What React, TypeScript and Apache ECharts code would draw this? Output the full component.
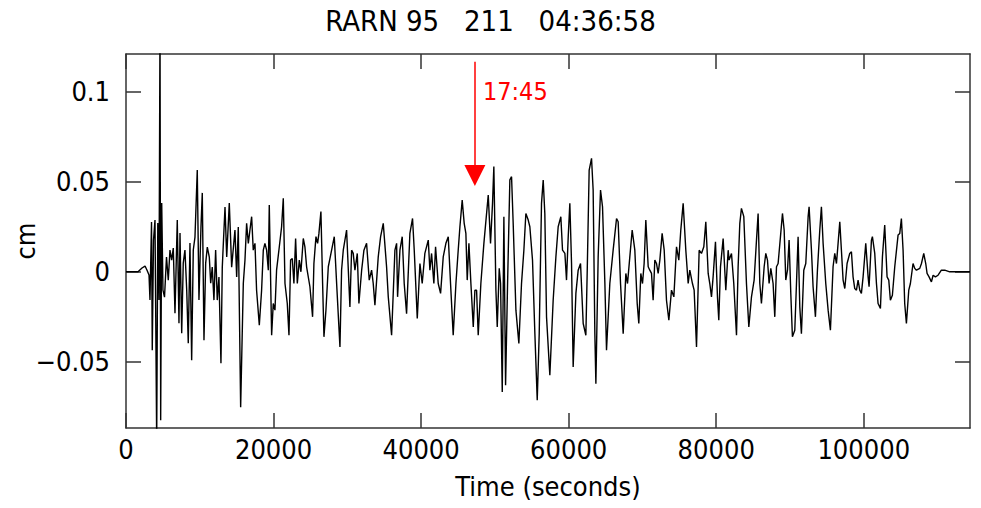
import React, { useEffect, useRef } from "react";
import * as echarts from "echarts";

// Trace: time (seconds) and ground displacement (cm)
const timeSec = [
  0, 1630, 2170, 2580, 2850, 3120, 3250, 3460, 3560, 3730, 3930, 4160, 4310, 4470, 4610, 4700, 4840, 5010, 5220, 5490,
  5730, 5960, 6190, 6410, 6640, 6950, 7180, 7320, 7550, 7760, 7990, 8230, 8440, 8670, 8900, 9120, 9350, 9660, 9890, 10160,
  10340, 10570, 10800, 11020, 11290, 11480, 11690, 11920, 12150, 12370, 12600, 12870, 13050, 13420, 13650, 14000, 14320, 14770, 15000, 15220,
  15540, 15900, 16125, 16350, 16580, 16800, 17030, 17250, 17480, 17700, 18070, 18380, 18610, 18830, 19060, 19290, 19420, 19740, 19960, 20190,
  20410, 20780, 21090, 21320, 21550, 21860, 22090, 22310, 22540, 22760, 22990, 23220, 23490, 23710, 24030, 24250, 24480, 24930, 25290, 25470,
  25750, 25970, 26150, 26420, 26650, 26830, 27100, 27420, 27870, 28230, 28550, 29000, 29220, 29450, 29900, 30350, 30580, 30800, 31030, 31350,
  31570, 31940, 32250, 32610, 32970, 33290, 33510, 33740, 34190, 34510, 34870, 35320, 35550, 36000, 36450, 36680, 36810, 37130, 37440, 37710,
  38030, 38480, 38840, 39070, 39480, 39840, 40150, 40510, 40970, 41190, 41420, 41730, 41960, 42320, 42640, 43000, 43360, 43680, 43990, 44350,
  44720, 45030, 45260, 45570, 45840, 46070, 46250, 46480, 46750, 47070, 47290, 47520, 47740, 48100, 48510, 49100, 49410, 49680, 49860, 50140,
  50320, 50590, 50770, 51000, 51220, 51450, 51720, 52030, 52260, 52480, 52850, 53250, 53610, 53930, 54200, 54520, 54740, 55100, 55420, 55740,
  56010, 56320, 56550, 56770, 57000, 57450, 57900, 58270, 58580, 58940, 59170, 59490, 59710, 59940, 60160, 60390, 60610, 60980, 61290, 61610,
  61970, 62330, 62510, 62780, 63100, 63320, 63550, 63690, 64000, 64320, 64590, 64910, 65130, 65580, 66030, 66490, 66710, 67030, 67390, 67750,
  67980, 68290, 68610, 68970, 69290, 69510, 69780, 70010, 70230, 70460, 70780, 71000, 71230, 71450, 71680, 71910, 72130, 72360, 72670, 72950,
  73260, 73580, 73940, 74260, 74620, 74930, 75200, 75520, 75880, 76200, 76420, 76780, 77010, 77330, 77690, 78000, 78320, 78590, 78910, 79130,
  79360, 79580, 79900, 80170, 80350, 80580, 80940, 81300, 81620, 81750, 82070, 82380, 82750, 82970, 83200, 83420, 83740, 84100, 84420, 84780,
  85140, 85460, 85680, 85910, 86130, 86500, 86720, 86950, 87170, 87400, 87710, 87940, 88170, 88390, 88710, 88980, 89210, 89430, 89660, 89880,
  90110, 90330, 90650, 90880, 91100, 91330, 91550, 91870, 92140, 92460, 92590, 92910, 93130, 93450, 93720, 94040, 94260, 94490, 94850, 95170,
  95480, 95840, 96070, 96300, 96520, 96750, 96970, 97200, 97430, 97740, 98100, 98330, 98550, 98780, 99010, 99230, 99460, 99680, 99910, 100270,
  100590, 100720, 101040, 101170, 101490, 101720, 101940, 102260, 102530, 102840, 103160, 103390, 103610, 103880, 104200, 104650, 104880, 105100, 105330, 105550,
  105780, 106100, 106320, 106680, 106910, 107140, 107590, 107820, 108130, 108400, 108580, 108850, 109170, 109400, 109710, 110070, 110520, 110980, 111650, 114400,
];
const displacementCm = [
  0, 0, 0.0021, 0.0032, 0.0009, -0.0018, -0.0157, 0.0276, -0.0435, 0.0176, 0.0287, -0.095, 0.0271, -0.0157, 0.14, -0.0824, 0.0382, -0.0102, -0.0141, 0.0082,
  -0.0046, 0.0121, 0.0065, 0.0132, -0.023, 0.0287, -0.0285, 0.0215, -0.0341, 0.0048, 0.0121, -0.0102, -0.0396, 0.016, -0.0491, 0.0121, 0.0193, 0.0565, -0.0157, 0.0249,
  0.0438, -0.038, 0.0048, 0.0137, 0.0082, -0.0063, 0.0026, -0.0157, 0.0121, -0.0157, -0.0029, -0.0507, 0.0026, 0.036, 0.0082, 0.0382, 0.0026, 0.0232, -0.0029, 0.0249,
  -0.0752, -0.0065, 0.0065, 0.0269, 0.0158, 0.0232, 0.0306, 0.012, 0.0158, -0.0102, -0.0296, -0.0102, 0.012, 0.0158, 0.012, 0.0009, 0.0371, -0.0352, -0.0176, -0.0213,
  0.0009, 0.0139, 0.025, 0.0408, -0.0065, -0.0176, -0.0352, 0.0065, 0.0074, -0.0065, 0.0185, -0.0065, 0.0065, 0, 0.0185, 0.0139, 0.0028, -0.0083, -0.025, 0.0046,
  0.0195, 0.0158, 0.0213, 0.0334, -0.0065, -0.0361, -0.0213, 0.0028, 0.012, 0.0195, -0.0065, -0.0417, 0.0009, 0.012, 0.0232, -0.0195, 0.012, 0.0102, 0.0009, 0.0102,
  -0.0176, 0.0009, 0.012, 0.0158, -0.0046, 0.0009, -0.0065, -0.0185, 0.0083, 0.0195, 0.0269, 0.0028, -0.0139, -0.0352, 0.012, 0.0158, -0.0139, 0.012, 0.0195, -0.0065,
  -0.0232, 0.0213, 0.0296, 0.012, -0.0259, 0.0046, -0.0065, 0.0102, 0.0176, 0.0009, 0.0102, -0.0065, 0.0139, -0.0065, -0.012, 0.0083, 0.0158, 0.0195, -0.0065, -0.0352,
  -0.0065, 0.012, 0.025, 0.0398, 0.0269, 0.0213, -0.0046, 0.0158, -0.0065, -0.0306, -0.0102, -0.0102, -0.0352, -0.0065, 0.0158, 0.0426, 0.0158, 0.038, 0.0584, -0.0102,
  -0.0306, 0.0019, -0.0065, -0.0667, 0.0306, -0.063, -0.0065, 0.051, 0.0528, 0.0269, -0.0213, -0.0398, -0.0065, 0.012, 0.0324, 0.0287, 0.025, 0.0065, -0.0343, -0.0713,
  -0.0343, 0.038, 0.051, 0.0324, -0.025, -0.0574, -0.0158, 0.0083, 0.025, 0.0306, 0.012, 0.0102, -0.0046, 0.0195, 0.038, 0.0046, -0.0528, -0.012, 0.0009, 0.0046,
  -0.0287, -0.0352, -0.0009, 0.0565, 0.063, 0.0454, -0.0343, -0.0621, 0.0083, 0.0454, 0.0361, -0.0065, -0.0435, -0.0065, 0.012, 0.0296, 0.0278, -0.0065, -0.0343, -0.0009,
  -0.0065, 0.0083, 0.0232, 0.012, -0.0176, -0.0287, -0.0009, -0.0065, 0.0046, 0.0287, 0.0028, 0.0009, -0.0009, -0.0158, 0.0065, 0.0046, -0.0009, 0.0065, 0.0213, 0.012,
  -0.0158, -0.0269, -0.0102, -0.0139, 0.0139, 0.0065, 0.0232, 0.038, 0.012, -0.0065, 0.0009, -0.0065, -0.0102, -0.0417, 0.012, 0.0102, 0.0139, 0.0278, -0.0009, -0.0065,
  -0.0139, -0.0028, 0.0167, -0.0139, -0.0269, 0.0028, 0.0185, -0.0102, 0.012, 0.0065, 0.0102, -0.0065, -0.0352, 0.0028, 0.0269, 0.0352, 0.0306, -0.0065, -0.0306, -0.0139,
  -0.0046, 0.0176, 0.0324, -0.0065, -0.0176, 0.0028, 0.0102, 0.0065, -0.0065, 0.0019, -0.0065, -0.025, 0.0028, 0.0046, 0.0195, 0.0324, 0.0232, -0.0046, 0.0009, 0.0176,
  -0.012, -0.0361, -0.0324, -0.0065, 0.0195, -0.0195, -0.0343, 0.0009, 0.0046, 0.0306, 0.0361, 0.012, -0.0083, -0.025, 0.0009, 0.0232, 0.0361, 0.0158, -0.0065, -0.0213,
  -0.0324, 0.0028, 0.0102, 0.0046, 0.0158, 0.0278, 0.012, -0.0046, -0.0093, 0.0046, 0.0102, 0.0111, -0.0028, -0.0093, -0.0102, -0.0046, -0.0102, -0.012, -0.0028, 0.0158,
  -0.0028, -0.0083, 0.0176, 0.0195, 0.0102, -0.0065, -0.0176, -0.0204, 0.0083, 0.0259, -0.0028, -0.0046, -0.0158, -0.013, 0.0028, 0.0204, 0.0213, 0.0296, 0.012, -0.0176,
  -0.0287, -0.0102, -0.0065, 0.0046, 0.0019, 0.0009, 0.0019, 0.0046, 0.0102, 0.0046, -0.0009, -0.0028, -0.0056, -0.0019, -0.0028, -0.0019, 0.0009, 0.0009, 0, 0,
];

const titleText = "RARN 95\u00a0\u00a0\u00a0211\u00a0\u00a0\u00a004:36:58";
const xTickValues = [0, 20000, 40000, 60000, 80000, 100000];
const yTickValues = [-0.05, 0, 0.05, 0.1];
const xMin = 0;
const xMax = 114400;
const yMin = -0.0867;
const yMax = 0.1209;
const xName = "Time (seconds)";
const yName = "cm";

// Arrival marker
const arrowTime = 47290;
const arrowTopCm = 0.1166;
const arrowHeadCm = 0.0535;
const arrowLabelCm = 0.0999;
const arrowLabel = "17:45";

const FONT = "'DejaVu Sans Condensed', 'DejaVu Sans', sans-serif";
const AXIS_COLOR = "#333";
const RED = "#ff0000";

export default function App() {
  const ref = useRef<HTMLDivElement>(null);

  useEffect(() => {
    if (!ref.current) return;
    const chart = echarts.init(ref.current, undefined, { renderer: "svg" });
    const data = timeSec.map((t, i) => [t, displacementCm[i]]);
    const axisLine = { show: true, onZero: false, lineStyle: { color: AXIS_COLOR, width: 1.5 } };
    const tickStyle = { color: AXIS_COLOR, width: 1.5 };
    const labelStyle = { color: "#000", fontSize: 27, fontFamily: FONT };

    chart.setOption({
      animation: false,
      backgroundColor: "#fff",
      title: {
        text: titleText,
        left: "center",
        top: 6,
        padding: 0,
        textStyle: { color: "#000", fontSize: 29, fontWeight: "normal", fontFamily: FONT },
      },
      grid: { left: 126, right: 11, top: 54, bottom: 80, containLabel: false, outerBoundsMode: "none" },
      xAxis: [
        {
          type: "value",
          position: "bottom",
          min: xMin,
          max: xMax,
          axisLine,
          axisTick: { show: true, inside: true, length: 15, customValues: xTickValues, lineStyle: tickStyle },
          axisLabel: { ...labelStyle, margin: 8, customValues: xTickValues, formatter: (v: number) => String(v) },
          splitLine: { show: false },
          name: xName,
          nameLocation: "middle",
          nameGap: 45,
          nameMoveOverlap: false,
          nameTextStyle: { ...labelStyle },
        },
        {
          type: "value",
          position: "top",
          min: xMin,
          max: xMax,
          axisLine,
          axisTick: { show: true, inside: true, length: 15, customValues: xTickValues, lineStyle: tickStyle },
          axisLabel: { show: false },
          splitLine: { show: false },
        },
      ],
      yAxis: [
        {
          type: "value",
          position: "left",
          min: yMin,
          max: yMax,
          axisLine,
          axisTick: { show: true, inside: true, length: 15, customValues: yTickValues, lineStyle: tickStyle },
          axisLabel: {
            ...labelStyle,
            margin: 16,
            customValues: yTickValues,
            formatter: (v: number) => String(Math.round(v * 1000) / 1000).replace("-", "\u2212"),
          },
          splitLine: { show: false },
          name: yName,
          nameLocation: "middle",
          nameGap: 87,
          nameRotate: 90,
          nameMoveOverlap: false,
          nameTextStyle: { ...labelStyle },
        },
        {
          type: "value",
          position: "right",
          min: yMin,
          max: yMax,
          axisLine,
          axisTick: { show: true, inside: true, length: 15, customValues: yTickValues, lineStyle: tickStyle },
          axisLabel: { show: false },
          splitLine: { show: false },
        },
      ],
      series: [
        {
          type: "line",
          xAxisIndex: 0,
          yAxisIndex: 0,
          data,
          showSymbol: false,
          symbol: "none",
          clip: true,
          lineStyle: { color: "#000", width: 1.4 },
          silent: true,
          markLine: {
            silent: true,
            symbol: ["none", "none"],
            lineStyle: { color: RED, width: 1.5, type: "solid" },
            label: { show: false },
            data: [[{ coord: [arrowTime, arrowTopCm] }, { coord: [arrowTime, arrowHeadCm] }]],
          },
          markPoint: {
            silent: true,
            data: [
              {
                coord: [arrowTime, arrowHeadCm],
                symbol: "triangle",
                symbolSize: [21, 21],
                symbolRotate: 180,
                itemStyle: { color: RED },
                label: { show: false },
              },
              {
                coord: [arrowTime, arrowLabelCm],
                symbol: "circle",
                symbolSize: 0,
                label: {
                  show: true,
                  position: "right",
                  distance: 8,
                  formatter: arrowLabel,
                  color: RED,
                  fontSize: 25,
                  fontFamily: FONT,
                },
              },
            ],
          },
        },
      ],
    });

    return () => chart.dispose();
  }, []);

  return <div ref={ref} style={{ width: 981, height: 508, margin: -8 }} />;
}
